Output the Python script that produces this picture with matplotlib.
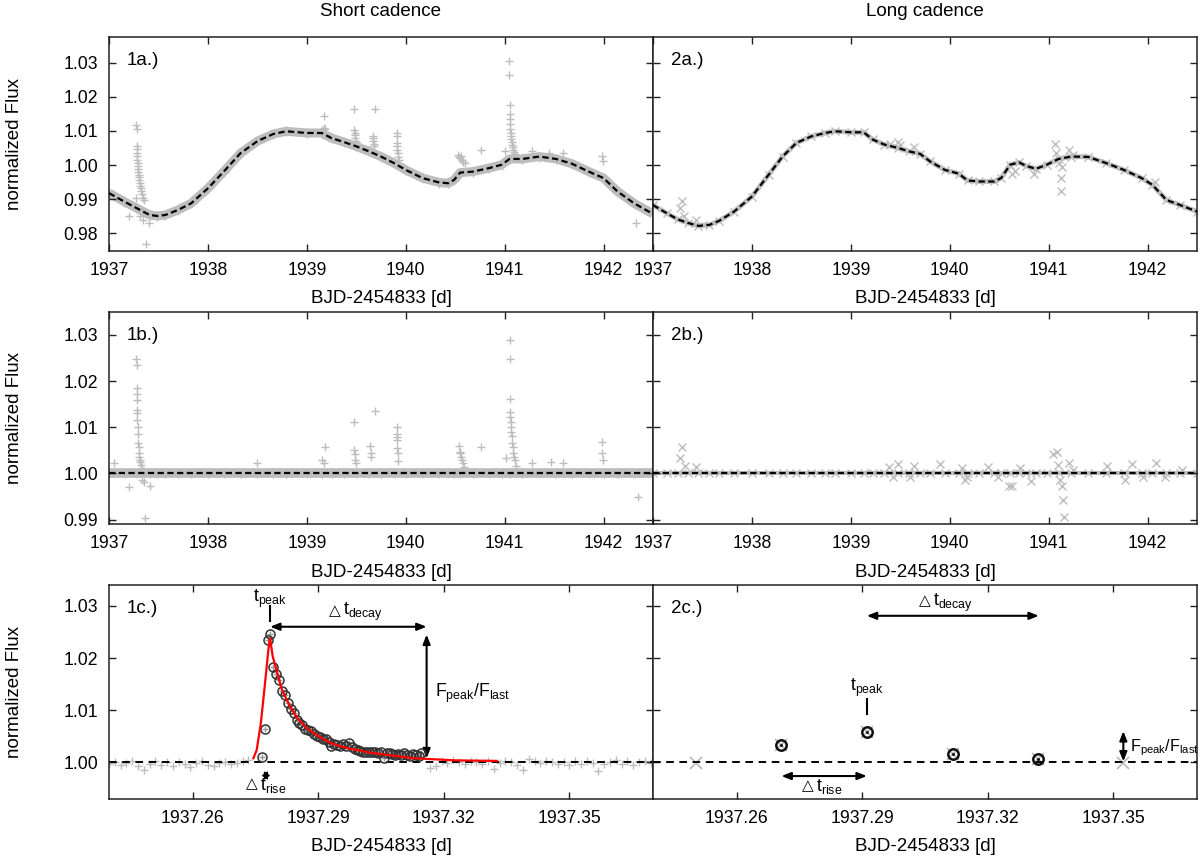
import numpy as np
import matplotlib
matplotlib.use("Agg")
import matplotlib.pyplot as plt

plt.rcParams['font.family'] = ['Liberation Sans', 'DejaVu Sans']
plt.rcParams['mathtext.fontset'] = 'custom'
plt.rcParams['mathtext.rm'] = 'Liberation Sans'
plt.rcParams['mathtext.it'] = 'Liberation Sans:italic'
plt.rcParams['mathtext.bf'] = 'Liberation Sans:bold'
plt.rcParams['mathtext.fallback'] = 'stixsans'
plt.rcParams['lines.scale_dashes'] = False

# ---------------- DATA ----------------
# Panel 1a: short cadence trend (dashed) - also the centre of the dense data band
t_sc_trend = [1937.0, 1937.155, 1937.28, 1937.41, 1937.49, 1937.57, 1937.70, 1937.83,
              1938.0, 1938.16, 1938.33, 1938.50, 1938.66, 1938.79, 1939.0, 1939.15,
              1939.25, 1939.38, 1939.5, 1939.63, 1939.75, 1939.88, 1940.0, 1940.17,
              1940.34, 1940.43, 1940.49, 1940.55, 1940.68, 1940.84, 1940.97, 1941.05,
              1941.18, 1941.35, 1941.52, 1941.68, 1941.85, 1942.0, 1942.14, 1942.31, 1942.5]
f_sc_trend = [0.9918, 0.9893, 0.9874, 0.9854, 0.9851, 0.9854, 0.9869, 0.9888,
              0.9932, 0.9981, 1.0035, 1.0070, 1.0091, 1.0099, 1.0094, 1.0094,
              1.0079, 1.0067, 1.0055, 1.0040, 1.0025, 1.0006, 0.9986, 0.9962,
              0.9949, 0.9947, 0.9957, 0.9978, 0.9981, 0.9991, 1.0001, 1.0018,
              1.0018, 1.0025, 1.0018, 1.0004, 0.9981, 0.9962, 0.9923, 0.9888, 0.9857]

# Panel 1a: flare / outlier points
t_sc_out_a = [1937.200, 1937.275, 1937.278, 1937.279, 1937.281, 1937.282, 1937.283, 1937.285,
              1937.287, 1937.289, 1937.291, 1937.294, 1937.297, 1937.300, 1937.304, 1937.308,
              1937.312, 1937.317, 1937.322, 1937.327, 1937.333, 1937.340, 1937.350, 1937.310,
              1937.345, 1937.370, 1937.400,
              1939.150, 1939.170, 1939.176, 1939.180,
              1939.480, 1939.482, 1939.484, 1939.486, 1939.490, 1939.495, 1939.500,
              1939.665, 1939.668, 1939.672, 1939.676, 1939.680, 1939.692,
              1939.910, 1939.911, 1939.912, 1939.914, 1939.916, 1939.920, 1939.925, 1939.930,
              1940.530, 1940.540, 1940.550, 1940.560, 1940.570, 1940.580, 1940.600, 1940.760,
              1941.000, 1941.046, 1941.048, 1941.050, 1941.052, 1941.054, 1941.056, 1941.058,
              1941.060, 1941.063, 1941.066, 1941.070, 1941.075, 1941.080, 1941.085, 1941.090,
              1941.100, 1941.110, 1941.280, 1941.450, 1941.590, 1941.980, 1941.990, 1942.330]
f_sc_out_a = [0.9852, 0.9905, 1.0116, 1.0106, 1.0056, 1.0046, 1.0036, 1.0026,
              1.0016, 1.0006, 0.9996, 0.9988, 0.9980, 0.9972, 0.9964, 0.9956,
              0.9948, 0.9940, 0.9932, 0.9924, 0.9916, 0.9905, 0.9897, 0.9850,
              0.9838, 0.9769, 0.9830,
              1.0103, 1.0110, 1.0145, 1.0105,
              1.0165, 1.0102, 1.0095, 1.0088, 1.0080, 1.0072, 1.0066,
              1.0085, 1.0078, 1.0070, 1.0062, 1.0055, 1.0165,
              1.0095, 1.0085, 1.0065, 1.0055, 1.0045, 1.0035, 1.0025, 1.0015,
              1.0030, 1.0025, 1.0020, 1.0028, 1.0015, 1.0010, 1.0005, 1.0045,
              1.0040, 1.0305, 1.0263, 1.0177, 1.0150, 1.0135, 1.0120, 1.0106,
              1.0095, 1.0085, 1.0076, 1.0068, 1.0060, 1.0052, 1.0045, 1.0038,
              1.0032, 1.0027, 1.0040, 1.0036, 1.0035, 1.0027, 1.0012, 0.9830]

# Panel 1b: detrended short cadence, flare / outlier points
detrended_level = 1.0
t_sc_out_b = [1937.050, 1937.200, 1937.278, 1937.279, 1937.281, 1937.282, 1937.283, 1937.285,
              1937.286, 1937.288, 1937.290, 1937.293, 1937.296, 1937.299, 1937.303, 1937.308,
              1937.313, 1937.318, 1937.325, 1937.335, 1937.330, 1937.350, 1937.360, 1937.410,
              1938.500, 1939.150, 1939.170, 1939.180,
              1939.480, 1939.481, 1939.485, 1939.490, 1939.495,
              1939.640, 1939.645, 1939.650, 1939.690,
              1939.910, 1939.911, 1939.912, 1939.914, 1939.916, 1939.920, 1939.925,
              1940.540, 1940.545, 1940.550, 1940.560, 1940.570, 1940.580, 1940.590, 1940.760,
              1941.010, 1941.050, 1941.052, 1941.054, 1941.056, 1941.058, 1941.060, 1941.063,
              1941.066, 1941.070, 1941.075, 1941.080, 1941.085, 1941.090, 1941.100, 1941.110,
              1941.280, 1941.470, 1941.590, 1941.980, 1941.985, 1941.990, 1942.350]
f_sc_out_b = [1.0022, 0.9970, 1.0247, 1.0234, 1.0184, 1.0173, 1.0159, 1.0137,
              1.0130, 1.0115, 1.0100, 1.0085, 1.0065, 1.0058, 1.0044, 1.0035,
              1.0030, 1.0024, 1.0018, 1.0012, 0.9985, 0.9982, 0.9904, 0.9972,
              1.0022, 1.0030, 1.0022, 1.0058,
              1.0112, 1.0050, 1.0043, 1.0030, 1.0022,
              1.0060, 1.0044, 1.0036, 1.0135,
              1.0100, 1.0085, 1.0078, 1.0072, 1.0055, 1.0044, 1.0026,
              1.0060, 1.0047, 1.0044, 1.0036, 1.0029, 1.0022, 1.0015, 1.0058,
              1.0033, 1.0289, 1.0247, 1.0161, 1.0133, 1.0123, 1.0112, 1.0101,
              1.0090, 1.0080, 1.0065, 1.0058, 1.0044, 1.0036, 1.0029, 1.0016,
              1.0022, 1.0025, 1.0022, 1.0067, 1.0044, 1.0030, 0.9949]

# Panel 2a: long cadence trend / data band
t_lc_trend = [1937.0, 1937.14, 1937.25, 1937.35, 1937.46, 1937.57, 1937.67, 1937.82,
              1938.0, 1938.17, 1938.31, 1938.45, 1938.60, 1938.74, 1938.84, 1939.0,
              1939.13, 1939.22, 1939.34, 1939.48, 1939.59, 1939.70, 1939.80, 1939.95,
              1940.09, 1940.18, 1940.30, 1940.45, 1940.52, 1940.61, 1940.70, 1940.77,
              1940.87, 1940.98, 1941.10, 1941.23, 1941.40, 1941.58, 1941.76, 1941.94,
              1942.05, 1942.19, 1942.33, 1942.5]
f_lc_trend = [0.9883, 0.9859, 0.9841, 0.9831, 0.9822, 0.9825, 0.9837, 0.9864,
              0.9908, 0.9972, 1.0025, 1.0065, 1.0084, 1.0094, 1.0099, 1.0096,
              1.0096, 1.0075, 1.0060, 1.0050, 1.0040, 1.0033, 1.0011, 0.9986,
              0.9975, 0.9955, 0.9952, 0.9952, 0.9962, 1.0001, 1.0008, 0.9998,
              0.9989, 1.0001, 1.0018, 1.0025, 1.0024, 1.0006, 0.9986, 0.9962,
              0.9942, 0.9898, 0.9883, 0.9864]

# Panel 2a: outliers
t_lc_out_a = [1937.27, 1937.29, 1937.31, 1937.43, 1939.40, 1939.48, 1939.50, 1939.64,
              1940.63, 1940.66, 1940.85, 1941.06, 1941.07, 1941.10, 1941.14, 1941.13,
              1941.12, 1941.21, 1941.25, 1942.08]
f_lc_out_a = [0.9874, 0.9895, 0.9850, 0.9838, 1.0063, 1.0067, 1.0058, 1.0053,
              0.9975, 0.9982, 0.9975, 1.0063, 1.0035, 1.0006, 0.9993, 0.9962,
              0.9924, 1.0045, 1.0030, 0.9950]

# Panel 2b: detrended long cadence outliers
t_lc_out_b = [1937.27, 1937.29, 1937.32, 1937.43, 1939.39, 1939.43, 1939.48, 1939.60,
              1939.64, 1939.90, 1940.12, 1940.15, 1940.17, 1940.39, 1940.49, 1940.60,
              1940.63, 1940.71, 1940.82, 1941.04, 1941.08, 1941.09, 1941.11, 1941.14,
              1941.15, 1941.16, 1941.21, 1941.25, 1941.59, 1941.77, 1941.84, 1941.95,
              1942.09, 1942.18, 1942.35]
f_lc_out_b = [1.0034, 1.0058, 1.0016, 1.0013, 1.0013, 0.9993, 1.0020, 0.9993,
              1.0017, 1.0020, 1.0011, 0.9986, 0.9993, 1.0013, 0.9993, 0.9973,
              0.9973, 1.0011, 0.9984, 1.0043, 1.0047, 1.0019, 0.9986, 0.9973,
              0.9943, 0.9905, 1.0023, 1.0007, 1.0016, 0.9986, 1.0020, 0.9993,
              1.0022, 0.9993, 1.0007]

# Panel 1c: zoom on the first flare (short cadence, 1-min sampling)
sc_cadence = 0.000694
t_bg_left_start = 1937.2400
f_bg_left = [0.9997, 1.0001, 0.9995, 0.9999, 1.0003, 0.9994, 0.9986, 0.9998, 1.0002, 0.9996,
             1.0000, 0.9993, 1.0001, 0.9997, 0.9991, 0.9999, 1.0002, 0.9996, 0.9994, 0.9999,
             1.0001, 0.9997, 0.9999, 1.0002, 1.0004]
t_bg_right_start = 1937.3167
f_bg_right = [0.9989, 0.9994, 1.0002, 0.9999, 1.0004, 1.0001, 0.9998, 1.0003, 1.0000, 0.9997,
              1.0002, 0.9988, 0.9999, 1.0003, 1.0001, 0.9996, 0.9986, 1.0006, 1.0002, 0.9999,
              1.0003, 1.0000, 0.9997, 1.0001, 0.9995, 1.0002, 0.9998, 1.0003, 0.9999, 0.9983,
              0.9997, 1.0001, 1.0004, 0.9998, 1.0002, 0.9996, 1.0000, 1.0003, 0.9999]
bg_step = 2  # every second short-cadence point shown
t_flare_start = 1937.2765
f_flare_sc = [1.0010, 1.0064, 1.0234, 1.0247, 1.0183, 1.0170, 1.0158, 1.0137, 1.0130, 1.0114,
              1.0103, 1.0094, 1.0082, 1.0076, 1.0071, 1.0064, 1.0063, 1.0060, 1.0055, 1.0051,
              1.0048, 1.0045, 1.0044, 1.0040, 1.0032, 1.0036, 1.0034, 1.0031, 1.0035, 1.0032,
              1.0038, 1.0029, 1.0026, 1.0024, 1.0022, 1.0021, 1.0021, 1.0020, 1.0020, 1.0021,
              1.0019, 1.0021, 1.0008, 1.0019, 1.0018, 1.0016, 1.0015, 1.0017, 1.0015, 1.0019,
              1.0015, 1.0013, 1.0017, 1.0015, 1.0013, 1.0018]
# fitted flare model (red)
t_fit = [1937.2745, 1937.2753, 1937.2763, 1937.2773, 1937.2781, 1937.2785, 1937.2791,
         1937.2803, 1937.2813, 1937.2832, 1937.2852, 1937.2872, 1937.2892, 1937.2912,
         1937.2931, 1937.2961, 1937.2991, 1937.3030, 1937.3080, 1937.3129, 1937.3179,
         1937.3228, 1937.3327]
f_fit = [1.0008, 1.0024, 1.0076, 1.0153, 1.0217, 1.0238, 1.0204,
         1.0169, 1.0140, 1.0108, 1.0083, 1.0066, 1.0055, 1.0045,
         1.0037, 1.0029, 1.0024, 1.0018, 1.0013, 1.0008, 1.0006,
         1.0004, 1.0003]
# flare parameters (short cadence)
sc_t_rise0, sc_t_peak, sc_t_last = 1937.2765, 1937.2785, 1937.3159
sc_f_peak, sc_f_last = 1.0245, 1.0008

# Panel 2c: long cadence points around the same flare
t_lc_c = [1937.2299, 1937.2503, 1937.2707, 1937.2911, 1937.3116, 1937.3319, 1937.3524]
f_lc_c = [1.0000, 0.9999, 1.0033, 1.0058, 1.0016, 1.0006, 0.9999]
lc_in_flare = [False, False, True, True, True, True, False]
lc_t_rise0, lc_t_peak, lc_t_last = 1937.2707, 1937.2911, 1937.3322
lc_f_peak, lc_f_last = 1.0060, 1.0002

# ---------------- STYLE ----------------
GREY = '#bdbdbd'
FS = 12.7
LFS = 13.5
XLABEL = 'BJD-2454833 [d]'

fig = plt.figure(figsize=(12, 8.57), dpi=100)
L0, R0, W = 109 / 1200, 653 / 1200, 544 / 1200
rows = [(1 - 250.5 / 857, 213.5 / 857), (1 - 524.3 / 857, 212.6 / 857), (1 - 799 / 857, 214 / 857)]
axes = {}
for r, (b, h) in enumerate(rows):
    axes[(r, 0)] = fig.add_axes([L0, b, W, h])
    axes[(r, 1)] = fig.add_axes([R0, b, W, h])


def style(ax, xlim, ylim, xticks, yticks, show_y, label):
    ax.set_xlim(xlim)
    ax.set_ylim(ylim)
    ax.set_xticks(xticks)
    ax.set_xticklabels([str(v) for v in xticks])
    ax.set_yticks(yticks)
    if show_y:
        ax.set_yticklabels([f"{v:.2f}" for v in yticks])
        ax.set_ylabel('normalized Flux', fontsize=LFS, labelpad=29)
    else:
        ax.set_yticklabels([])
    ax.tick_params(direction='in', length=5, width=1, top=True, right=True,
                   labelsize=FS, pad=8, color='#222222')
    for s in ax.spines.values():
        s.set_linewidth(1.1)
        s.set_color('#222222')
    ax.set_xlabel(XLABEL, fontsize=LFS, labelpad=8)
    ax.text(0.033, 0.89, label, transform=ax.transAxes, fontsize=13.5,
            ha='left', va='center')


def delta_label(ax, x, y, sub):
    """'△t_sub' label: the triangle is drawn just left of x, the t starts at x."""
    ax.text(x, y, r't$_{\mathrm{' + sub + '}}$', ha='left', va='center', fontsize=FS)
    ax.annotate('△', xy=(x, y), xytext=(-1.5, 1.2), textcoords='offset points',
                ha='right', va='center', fontsize=11, family='DejaVu Sans')


top_xlim = (1937.0, 1942.5)
top_xticks = [1937, 1938, 1939, 1940, 1941, 1942]
zoom_xlim = (1937.24, 1937.37)
zoom_xticks = [1937.26, 1937.29, 1937.32, 1937.35]
ylim_a, yt_a = (0.975, 1.0375), [0.98, 0.99, 1.00, 1.01, 1.02, 1.03]
ylim_b, yt_b = (0.989, 1.035), [0.99, 1.00, 1.01, 1.02, 1.03]
ylim_c, yt_c = (0.993, 1.034), [1.00, 1.01, 1.02, 1.03]
trend_dash = (0, (4.5, 2.5))
flat_dash = (0, (5.5, 4))

# ---- 1a
ax = axes[(0, 0)]
ax.plot(t_sc_trend, f_sc_trend, color=GREY, lw=6.5, solid_capstyle='butt', zorder=1)
ax.plot(t_sc_trend, f_sc_trend, ls='none', marker='+', ms=7, mew=1, color=GREY, zorder=1)
ax.plot(t_sc_out_a, f_sc_out_a, ls='none', marker='+', ms=6, mew=1, color=GREY, zorder=2)
ax.plot(t_sc_trend, f_sc_trend, color='black', lw=1.6, ls=trend_dash, zorder=3)
style(ax, top_xlim, ylim_a, top_xticks, yt_a, True, '1a.)')

# ---- 2a
ax = axes[(0, 1)]
ax.plot(t_lc_trend, f_lc_trend, color=GREY, lw=3.5, zorder=1)
ax.plot(t_lc_trend, f_lc_trend, ls='none', marker='x', ms=6, mew=1, color=GREY, zorder=1)
ax.plot(t_lc_out_a, f_lc_out_a, ls='none', marker='x', ms=6, mew=1, color=GREY, zorder=2)
ax.plot(t_lc_trend, f_lc_trend, color='black', lw=1.6, ls=trend_dash, zorder=3)
style(ax, top_xlim, ylim_a, top_xticks, yt_a, False, '2a.)')

# ---- 1b
ax = axes[(1, 0)]
ax.plot(t_sc_trend, [detrended_level] * len(t_sc_trend), color=GREY, lw=7,
        solid_capstyle='butt', zorder=1)
ax.plot(t_sc_trend, [detrended_level] * len(t_sc_trend), ls='none', marker='+', ms=7,
        mew=1, color=GREY, zorder=1)
ax.plot(t_sc_out_b, f_sc_out_b, ls='none', marker='+', ms=6, mew=1, color=GREY, zorder=2)
ax.axhline(detrended_level, color='black', lw=1.6, ls=trend_dash, zorder=3)
style(ax, top_xlim, ylim_b, top_xticks, yt_b, True, '1b.)')

# ---- 2b
ax = axes[(1, 1)]
ax.plot(t_lc_trend, [detrended_level] * len(t_lc_trend), color=GREY, lw=3, zorder=1)
ax.plot(t_lc_trend, [detrended_level] * len(t_lc_trend), ls='none', marker='x', ms=6,
        mew=1, color=GREY, zorder=1)
ax.plot(t_lc_out_b, f_lc_out_b, ls='none', marker='x', ms=6, mew=1, color=GREY, zorder=2)
ax.axhline(detrended_level, color='black', lw=1.6, ls=trend_dash, zorder=3)
style(ax, top_xlim, ylim_b, top_xticks, yt_b, False, '2b.)')

# ---- 1c
ax = axes[(2, 0)]
t_bg_left = t_bg_left_start + sc_cadence * bg_step * np.arange(len(f_bg_left))
t_bg_right = t_bg_right_start + sc_cadence * bg_step * np.arange(len(f_bg_right))
t_flare = t_flare_start + sc_cadence * np.arange(len(f_flare_sc))
ax.plot(t_bg_left, f_bg_left, ls='none', marker='+', ms=6, mew=1, color=GREY, zorder=1)
ax.plot(t_bg_right, f_bg_right, ls='none', marker='+', ms=6, mew=1, color=GREY, zorder=1)
ax.axhline(1.0, color='black', lw=1.4, ls=flat_dash, zorder=2)
ax.plot(t_flare, f_flare_sc, ls='none', marker='+', ms=5, mew=1, color='#999999', zorder=3)
ax.plot(t_flare, f_flare_sc, ls='none', marker='o', ms=6.5, mew=1.1, mfc='none',
        mec='#333333', zorder=4)
ax.plot(t_fit, f_fit, color='red', lw=1.6, zorder=5)
style(ax, zoom_xlim, ylim_c, zoom_xticks, yt_c, True, '1c.)')

arrow = dict(arrowstyle='<|-|>,head_length=0.55,head_width=0.22', color='black', lw=1.5,
             shrinkA=0, shrinkB=0)
ax.annotate('', xy=(sc_t_peak, 1.0260), xytext=(sc_t_last, 1.0260), arrowprops=arrow)
ax.annotate('', xy=(sc_t_last, sc_f_peak), xytext=(sc_t_last, sc_f_last), arrowprops=arrow)
ax.annotate('', xy=(sc_t_rise0, 0.9975), xytext=(sc_t_peak, 0.9975),
            arrowprops=dict(arrowstyle='<|-|>,head_length=0.4,head_width=0.3',
                            mutation_scale=8, color='black', lw=1.0,
                            shrinkA=0, shrinkB=0))
ax.plot([sc_t_peak, sc_t_peak], [1.0271, 1.0299], color='black', lw=1.5)
ax.text(sc_t_peak, 1.0314, r't$_{\mathrm{peak}}$', ha='center', va='center', fontsize=FS)
delta_label(ax, 1937.2958, 1.0288, 'decay')
ax.text(sc_t_last + 0.0019, 1.0133, r'F$_{\mathrm{peak}}$/F$_{\mathrm{last}}$',
        ha='left', va='center', fontsize=FS)
delta_label(ax, 1937.2760, 0.9956, 'rise')

# ---- 2c
ax = axes[(2, 1)]
ax.axhline(1.0, color='black', lw=1.4, ls=flat_dash, zorder=2)
ax.plot(t_lc_c, f_lc_c, ls='none', marker='x', ms=9, mew=1.3, color=GREY, zorder=1)
t_in = [t for t, m in zip(t_lc_c, lc_in_flare) if m]
f_in = [f for f, m in zip(f_lc_c, lc_in_flare) if m]
ax.plot(t_in, f_in, ls='none', marker='o', ms=7.5, mew=1.8, mfc='none', mec='#111111',
        zorder=4)
ax.plot(t_in, f_in, ls='none', marker='o', ms=2.2, mew=0, color='#111111', zorder=4)
style(ax, zoom_xlim, ylim_c, zoom_xticks, yt_c, False, '2c.)')

ax.annotate('', xy=(lc_t_peak, 1.0281), xytext=(lc_t_last, 1.0281), arrowprops=arrow)
ax.annotate('', xy=(lc_t_rise0, 0.9974), xytext=(lc_t_peak, 0.9974), arrowprops=arrow)
ax.annotate('', xy=(t_lc_c[-1], lc_f_peak), xytext=(t_lc_c[-1], lc_f_last),
            arrowprops=arrow)
ax.plot([lc_t_peak, lc_t_peak], [1.0092, 1.0121], color='black', lw=1.5)
ax.text(lc_t_peak, 1.0143, r't$_{\mathrm{peak}}$', ha='center', va='center', fontsize=FS)
delta_label(ax, 1937.3069, 1.0306, 'decay')
delta_label(ax, 1937.2790, 0.9953, 'rise')
ax.text(t_lc_c[-1] + 0.0017, 1.0028, r'F$_{\mathrm{peak}}$/F$_{\mathrm{last}}$',
        ha='left', va='center', fontsize=11.6)

# column titles
fig.text((109 + 653) / 2 / 1200, 1 - 11 / 857, 'Short cadence', ha='center', va='center',
         fontsize=LFS)
fig.text((653 + 1197) / 2 / 1200, 1 - 11 / 857, 'Long cadence', ha='center', va='center',
         fontsize=LFS)

fig.savefig('out.png', dpi=100)
